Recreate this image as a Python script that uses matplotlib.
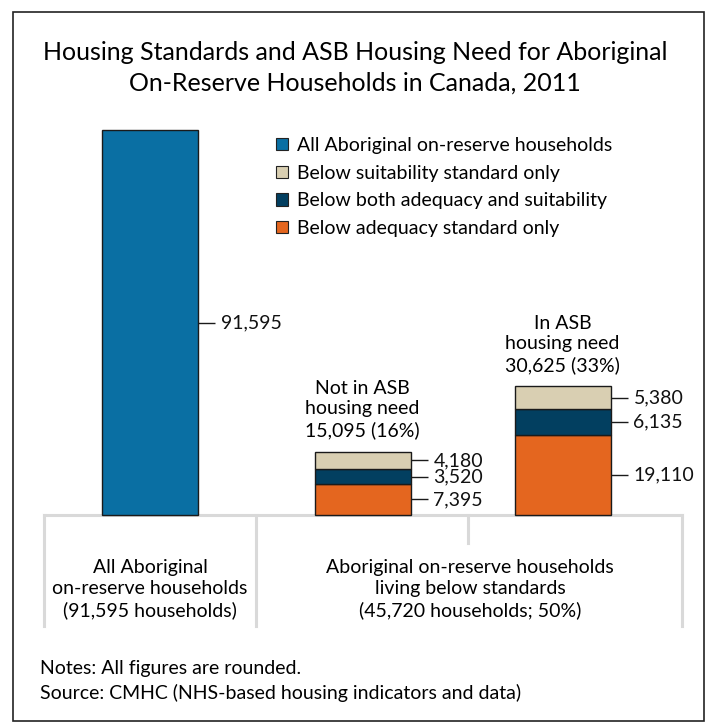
import matplotlib
matplotlib.use("Agg")
import matplotlib.pyplot as plt
from matplotlib.patches import Rectangle, Patch

plt.rcParams['font.family'] = ['Lato', 'DejaVu Sans']

# ---- data ----
series_names = ["All Aboriginal on-reserve households",
                "Below suitability standard only",
                "Below both adequacy and suitability",
                "Below adequacy standard only"]
colors = ["#0a6fa3", "#d9cfb2", "#023f60", "#e4661f"]
all_households = 91595
not_asb = [7395, 3520, 4180]   # adequacy only, both, suitability only
in_asb = [19110, 6135, 5380]
not_asb_label = "Not in ASB\nhousing need\n15,095 (16%)"
in_asb_label = "In ASB\nhousing need\n30,625 (33%)"
group_labels = ["All Aboriginal\non-reserve households\n(91,595 households)",
                "Aboriginal on-reserve households\nliving below standards\n(45,720 households; 50%)"]
title = "Housing Standards and ASB Housing Need for Aboriginal\nOn-Reserve Households in Canada, 2011"
notes = "Notes: All figures are rounded.\nSource: CMHC (NHS-based housing indicators and data)"

W, H = 710, 724
fig = plt.figure(figsize=(W/100, H/100), dpi=100)

# pixel overlay axes
pax = fig.add_axes([0, 0, 1, 1])
pax.set_xlim(0, W); pax.set_ylim(H, 0); pax.axis('off')

# data axes: baseline at y=515px, scale 0.0042 px/unit
base_px = 515; scale = 0.0042
ax = fig.add_axes([0, 0, 1, 1], zorder=2)
ax.patch.set_alpha(0)
ax.set_xlim(0, W)
ax.set_ylim(-(H - base_px) / scale, base_px / scale)
ax.axis('off')

FS = 14
bw = 96
x_all, x_not, x_in = 150, 362.5, 562.5
ax.bar([x_all], [all_households], width=bw, color=colors[0], edgecolor='#1a1a1a', linewidth=1)
seg_colors = [colors[3], colors[2], colors[1]]
for xc, vals in [(x_not, not_asb), (x_in, in_asb)]:
    bottom = 0
    for v, c in zip(vals, seg_colors):
        ax.bar([xc], [v], bottom=bottom, width=bw, color=c, edgecolor='#1a1a1a', linewidth=1)
        bottom += v

def value_label(xc, mid, v):
    x0 = xc + bw/2
    ax.plot([x0, x0 + 17], [mid, mid], color='#1a1a1a', lw=1, solid_capstyle='butt')
    ax.text(x0 + 23, mid, f"{v:,}", va='center', ha='left', fontsize=FS, color='#111111')

value_label(x_all, all_households/2, all_households)
for xc, vals in [(x_not, not_asb), (x_in, in_asb)]:
    bottom = 0
    for v in vals:
        value_label(xc, bottom + v/2, v)
        bottom += v

ax.annotate(not_asb_label, xy=(x_not, sum(not_asb)), xytext=(0, 9), textcoords='offset points',
            ha='center', va='bottom', fontsize=FS, linespacing=1.25)
ax.annotate(in_asb_label, xy=(x_in, sum(in_asb)), xytext=(0, 9), textcoords='offset points',
            ha='center', va='bottom', fontsize=FS, linespacing=1.25)

# border
pax.add_patch(Rectangle((13, 12), 691, 709, fill=False, edgecolor='#222222', lw=1.2))

# bracket lines
gc = '#d9d9d9'; glw = 2.2
pax.plot([44, 682], [515, 515], color=gc, lw=glw, zorder=0)
for xv, yb in [(44, 626), (256, 626), (468, 543), (682, 626)]:
    pax.plot([xv, xv], [515, yb], color=gc, lw=glw, zorder=0)

pax.text(150, 589, group_labels[0], ha='center', va='center', fontsize=FS, linespacing=1.3)
pax.text(470, 589, group_labels[1], ha='center', va='center', fontsize=FS, linespacing=1.3)

pax.text(355, 68, title, ha='center', va='center', fontsize=18, linespacing=1.4)
pax.text(40, 681, notes, ha='left', va='center', fontsize=FS, linespacing=1.5)

handles = [Patch(facecolor=c, edgecolor='#222222', linewidth=0.8) for c in colors]
fig.legend(handles, series_names, loc='upper left', bbox_to_anchor=(276/W, 1 - 137/H),
           frameon=False, fontsize=FS, handlelength=0.6, handleheight=0.6,
           handletextpad=0.5, labelspacing=0.55, borderpad=0, borderaxespad=0)

fig.savefig("out.png", dpi=100)
